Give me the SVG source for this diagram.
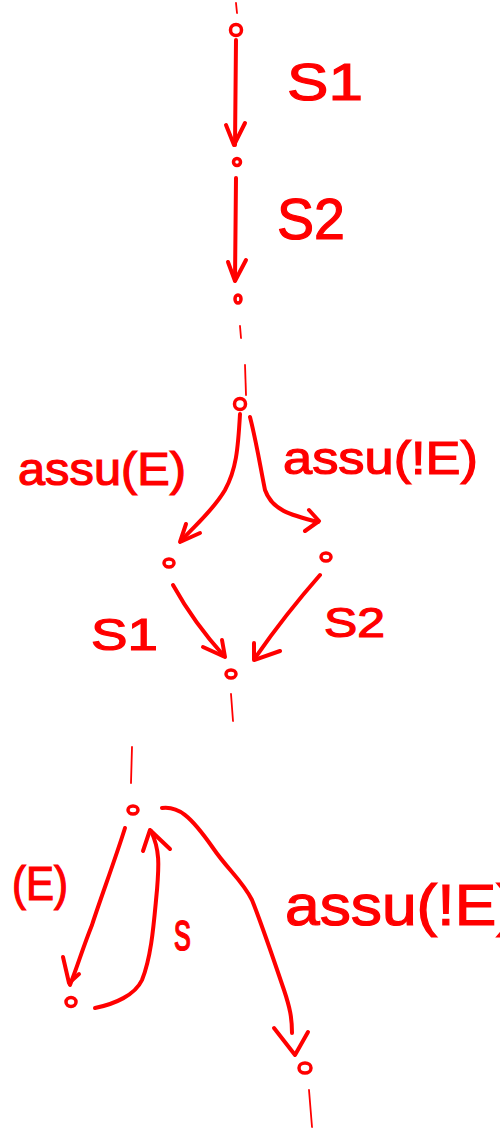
<svg xmlns="http://www.w3.org/2000/svg" width="500" height="1132" viewBox="0 0 500 1132">
<style>
.ln{fill:none;stroke:#ff0000;stroke-width:4;stroke-linecap:round;stroke-linejoin:round}
.tk{fill:none;stroke:#ff0000;stroke-width:1.8;stroke-linecap:round}
.nd{fill:#ffffff;stroke:#ff0000;stroke-width:3.5}
.lb{fill:#ff0000;stroke:#ff0000;stroke-width:1.2;font-family:"Liberation Sans",Arial,sans-serif}
</style>
<rect width="500" height="1132" fill="#ffffff"/>
<g id="connectors">
  <path class="tk" d="M236 3 L237 13"/>
  <path class="ln" d="M236 40 L235 145"/>
  <path class="ln" d="M226 125 L234 145 L245 123"/>
  <path class="ln" d="M236 178 L235 280"/>
  <path class="ln" d="M228 262 L235 281 L246 260"/>
  <path class="tk" d="M240 326 L241 338"/>

  <path class="tk" d="M245 365 L246 395"/>
  <path class="ln" d="M240 414 C238 450 236 470 225 490 C212 512 195 525 181 541"/>
  <path class="ln" d="M186 524 L180 542 L200 533"/>
  <path class="ln" d="M250 417 C256 440 260 465 265 490 C272 510 290 515 318 522"/>
  <path class="ln" d="M309 510 L319 521 L305 531"/>
  <path class="ln" d="M173 585 C188 612 205 635 224 656"/>
  <path class="ln" d="M203 647 L225 657 L222 640"/>
  <path class="ln" d="M320 575 C298 600 278 625 255 658"/>
  <path class="ln" d="M254 643 L254 660 L280 651"/>
  <path class="tk" d="M231 694 L233 721"/>

  <path class="tk" d="M132 747 L131 783"/>
  <path class="ln" d="M125 828 C115 860 100 900 92 925 C82 950 78 965 70 985"/>
  <path class="ln" d="M63 957 L69 983 L79 974"/>
  <path class="ln" d="M95 1008 C115 1004 135 995 142 980 C152 955 154 920 157 890 C159 865 160 850 151 831"/>
  <path class="ln" d="M143 851 L150 830 L170 849"/>
  <path class="ln" d="M162 808 C178 806 190 815 213 848 C228 870 242 880 252 900 C262 925 272 955 284 990 C290 1008 292 1018 292 1033"/>
  <path class="ln" d="M274 1028 L295 1055 L308 1032"/>
  <path class="tk" d="M309 1090 L312 1127"/>
</g>
<g id="n1"><ellipse class="nd" cx="236" cy="30" rx="5.5" ry="5.5"/></g>
<g id="n2"><ellipse class="nd" cx="237" cy="162" rx="3.5" ry="3.5"/></g>
<g id="n3"><ellipse class="nd" cx="238" cy="299" rx="3" ry="4"/></g>
<g id="n4"><ellipse class="nd" cx="240" cy="404" rx="5.5" ry="5.5"/></g>
<g id="n5"><ellipse class="nd" cx="169" cy="563" rx="5" ry="4"/></g>
<g id="n6"><ellipse class="nd" cx="326" cy="557" rx="5" ry="4"/></g>
<g id="n7"><ellipse class="nd" cx="231" cy="674" rx="5" ry="4"/></g>
<g id="n8"><ellipse class="nd" cx="133" cy="810" rx="5" ry="4"/></g>
<g id="n9"><ellipse class="nd" cx="71" cy="1002" rx="5" ry="4.5"/></g>
<g id="n10"><ellipse class="nd" cx="305" cy="1068" rx="6" ry="5"/></g>
<g id="labels">
  <text class="lb" x="287" y="100" font-size="52" textLength="76" lengthAdjust="spacingAndGlyphs">S1</text>
  <text class="lb" x="277" y="239" font-size="58" textLength="68" lengthAdjust="spacingAndGlyphs">S2</text>
  <text class="lb" x="18" y="485" font-size="46" textLength="168" lengthAdjust="spacingAndGlyphs">assu(E)</text>
  <text class="lb" x="283" y="474" font-size="46" textLength="195" lengthAdjust="spacingAndGlyphs">assu(!E)</text>
  <text class="lb" x="91" y="650" font-size="45" textLength="67" lengthAdjust="spacingAndGlyphs">S1</text>
  <text class="lb" x="324" y="637" font-size="42" textLength="61" lengthAdjust="spacingAndGlyphs">S2</text>
  <text class="lb" x="12" y="900" font-size="48" textLength="56" lengthAdjust="spacingAndGlyphs">(E)</text>
  <text class="lb" x="174" y="950" font-size="56" textLength="17" lengthAdjust="spacingAndGlyphs">s</text>
  <text class="lb" x="285" y="925" font-size="58" textLength="232" lengthAdjust="spacingAndGlyphs">assu(!E)</text>
</g>
</svg>
